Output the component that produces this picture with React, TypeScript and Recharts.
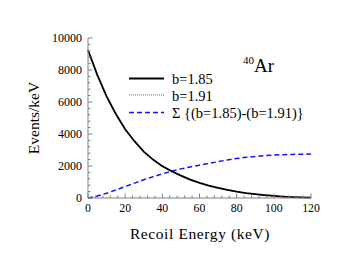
import React from "react";
import { LineChart, Line, XAxis, YAxis } from "recharts";

const energy = [0, 5, 10, 15, 20, 25, 30, 35, 40, 45, 50, 55, 60, 65, 70, 75, 80, 85, 90, 95, 100, 105, 110, 115, 120];
const b185 = [9250, 7700, 6350, 5250, 4300, 3550, 2900, 2400, 1990, 1675, 1400, 1150, 950, 780, 640, 510, 400, 310, 240, 180, 130, 90, 60, 40, 25];
const b191 = [9230, 7680, 6330, 5230, 4280, 3530, 2885, 2390, 1980, 1668, 1394, 1146, 947, 778, 638, 509, 399, 309, 239, 179, 129, 89, 59, 39, 24];
const sumDiff = [0, 120, 300, 500, 720, 930, 1140, 1330, 1510, 1675, 1820, 1940, 2050, 2160, 2270, 2380, 2470, 2540, 2600, 2650, 2680, 2710, 2725, 2735, 2745];

const xMajorTicks = [0, 20, 40, 60, 80, 100, 120];
const yMajorTicks = [0, 2000, 4000, 6000, 8000, 10000];
const xMinorStep = 4;
const yMinorStep = 400;

const legendLabels = ["b=1.85", "b=1.91", "\u03a3 {(b=1.85)-(b=1.91)}"];

const data = energy.map((e, i) => ({ e, a: b185[i], b: b191[i], s: sumDiff[i] }));

const xTicks: number[] = [];
for (let v = 0; v <= 120; v += xMinorStep) xTicks.push(v);
const yTicks: number[] = [];
for (let v = 0; v <= 10000; v += yMinorStep) yTicks.push(v);

const FONT = '"Liberation Serif", "Times New Roman", "DejaVu Serif", serif';
const FRAME = "#808080";
const ts = (size: number, extra: any = {}) => ({ fontFamily: FONT, fontSize: size, ...extra });

const BottomTick = (p: any) => {
  const v = p.payload.value;
  const major = xMajorTicks.includes(v);
  return (
    <g>
      <line x1={p.x} y1={p.y} x2={p.x} y2={p.y - (major ? 4.5 : 2.5)} stroke={FRAME} />
      {major && (
        <text x={p.x} y={p.y + 14} textAnchor="middle" style={ts(11.8)} fill="#000">
          {v}
        </text>
      )}
    </g>
  );
};
const TopTick = (p: any) => {
  const v = p.payload.value;
  const major = xMajorTicks.includes(v);
  return <line x1={p.x} y1={p.y} x2={p.x} y2={p.y + (major ? 4.5 : 2.5)} stroke={FRAME} />;
};
const LeftTick = (p: any) => {
  const v = p.payload.value;
  const major = yMajorTicks.includes(v);
  return (
    <g>
      <line x1={p.x} y1={p.y} x2={p.x + (major ? 4.5 : 2.5)} y2={p.y} stroke={FRAME} />
      {major && (
        <text x={p.x - 6} y={p.y + 4} textAnchor="end" style={ts(12)} fill="#000">
          {v}
        </text>
      )}
    </g>
  );
};
const RightTick = (p: any) => {
  const v = p.payload.value;
  const major = yMajorTicks.includes(v);
  return <line x1={p.x} y1={p.y} x2={p.x - (major ? 4.5 : 2.5)} y2={p.y} stroke={FRAME} />;
};

const legendLineY = [78.5, 95, 112.5];
const legendTextY = [84, 100.5, 118];

export default function App() {
  return (
    <div style={{ position: "absolute", left: 0, top: 0, width: 355, height: 271, background: "#fff" }}>
      <LineChart width={355} height={271} data={data} margin={{ top: 38, right: 44, bottom: 43, left: 0 }}>
        <XAxis
          dataKey="e"
          type="number"
          domain={[0, 120]}
          ticks={xTicks}
          interval={0}
          height={30}
          tickSize={0}
          tickMargin={0}
          tickLine={false}
          tick={<BottomTick />}
          stroke={FRAME}
        />
        <XAxis
          xAxisId="top"
          orientation="top"
          dataKey="e"
          type="number"
          domain={[0, 120]}
          ticks={xTicks}
          interval={0}
          height={0}
          tickSize={0}
          tickMargin={0}
          tickLine={false}
          tick={<TopTick />}
          stroke={FRAME}
        />
        <YAxis
          type="number"
          domain={[0, 10000]}
          ticks={yTicks}
          interval={0}
          width={88}
          tickSize={0}
          tickMargin={0}
          tickLine={false}
          tick={<LeftTick />}
          stroke={FRAME}
        />
        <YAxis
          yAxisId="right"
          orientation="right"
          type="number"
          domain={[0, 10000]}
          ticks={yTicks}
          interval={0}
          width={0}
          tickSize={0}
          tickMargin={0}
          tickLine={false}
          tick={<RightTick />}
          stroke={FRAME}
        />
        <Line dataKey="b" stroke="#666" strokeWidth={1} strokeDasharray="1 1" dot={false} isAnimationActive={false} />
        <Line dataKey="s" stroke="#1010ff" strokeWidth={1.5} strokeDasharray="5 3" dot={false} isAnimationActive={false} />
        <Line dataKey="a" stroke="#000" strokeWidth={1.8} dot={false} isAnimationActive={false} />
      </LineChart>
      <svg width={355} height={271} style={{ position: "absolute", left: 0, top: 0, pointerEvents: "none" }}>
        <line x1={129} y1={legendLineY[0]} x2={164} y2={legendLineY[0]} stroke="#000" strokeWidth={1.8} />
        <line x1={129} y1={legendLineY[1]} x2={164} y2={legendLineY[1]} stroke="#666" strokeWidth={1} strokeDasharray="1 1" />
        <line x1={129} y1={legendLineY[2]} x2={164} y2={legendLineY[2]} stroke="#1010ff" strokeWidth={1.5} strokeDasharray="5 3" />
        {legendLabels.map((t, i) => (
          <text key={t} x={172} y={legendTextY[i]} style={ts(14.5)} fill="#000">
            {t}
          </text>
        ))}
        <text x={243} y={72} style={ts(19)} fill="#000">
          <tspan style={{ fontSize: 11 }} dy={-8}>40</tspan>
          <tspan dy={8}>Ar</tspan>
        </text>
        <text
          x={0}
          y={0}
          transform="translate(39,118) rotate(-90)"
          textAnchor="middle"
          style={ts(15.5)}
          fill="#000"
        >
          Events/keV
        </text>
        <text x={200} y={239} textAnchor="middle" style={ts(15.5, { letterSpacing: 0.6 })} fill="#000">
          Recoil Energy (keV)
        </text>
      </svg>
    </div>
  );
}
